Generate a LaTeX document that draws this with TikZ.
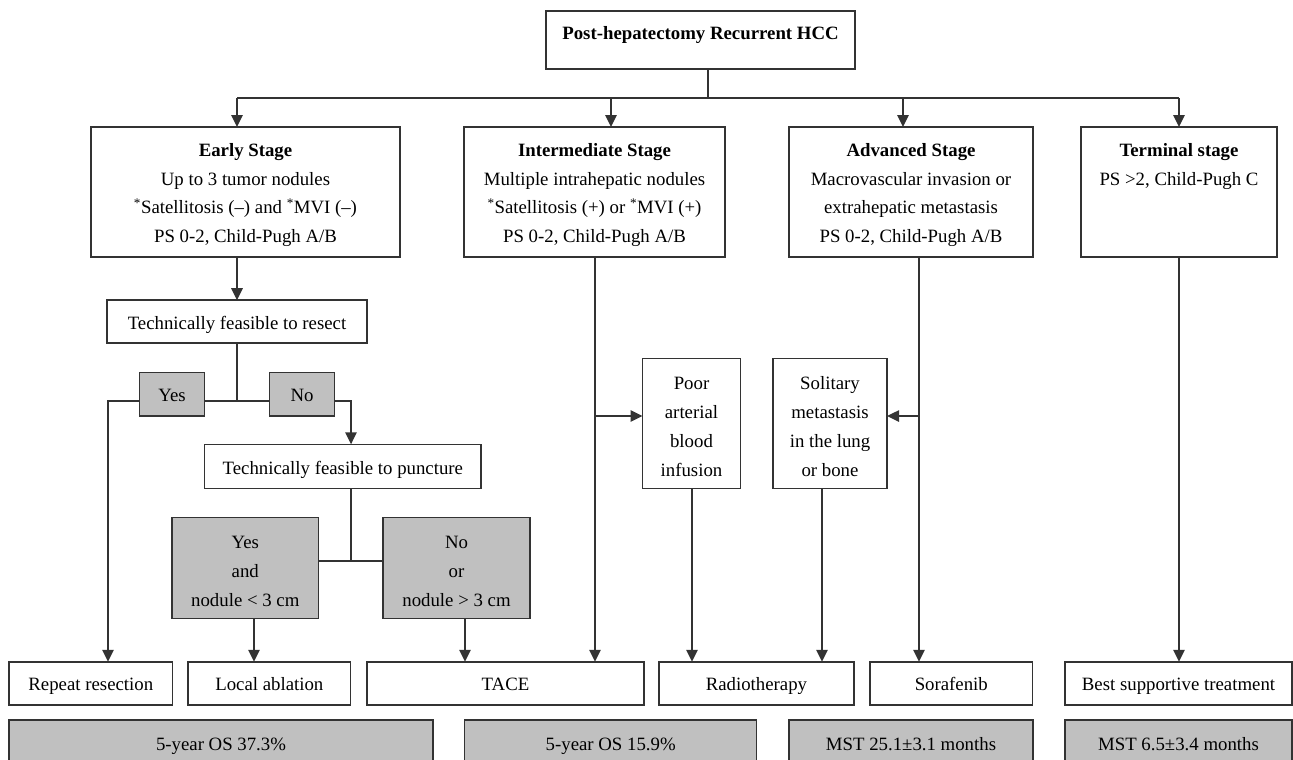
\documentclass[tikz,border=0pt]{standalone}
\usepackage{fontspec}
\setmainfont{Liberation Serif}
\usetikzlibrary{arrows.meta}
\definecolor{ln}{HTML}{333333}
\definecolor{gr}{HTML}{C0C0C0}
\newcommand\tstrut{\rule{0pt}{19pt}}
\begin{document}
\begin{tikzpicture}[x=1pt,y=-1pt,
  font=\fontsize{18.8}{28.8}\selectfont,
  box/.style={draw=ln, line width=1.5pt, inner sep=0pt, outer sep=0pt, align=center},
  gbox/.style={box, fill=gr},
  one/.style={text height=17pt, text depth=2pt},
  conn/.style={draw=ln, line width=1.5pt},
  arr/.style={conn, -{Triangle[length=12pt,width=11.5pt]}}]
\useasboundingbox (0,0) rectangle (1293,760);
\clip (0,0) rectangle (1293,760);

% top
\node[box, minimum width=309pt, minimum height=58pt, text height=13pt, text depth=13pt] (top) at (700.5,40) {\textbf{Post-hepatectomy Recurrent HCC}};

% stages
\node[box, minimum width=309pt, minimum height=130pt] (early) at (245.5,192)
  {\tstrut\textbf{Early Stage}\\Up to 3 tumor nodules\\\textsuperscript{*}Satellitosis (–) and \textsuperscript{*}MVI (–)\\PS 0-2, Child-Pugh A/B};
\node[box, minimum width=261pt, minimum height=130pt] (inter) at (594.5,192)
  {\tstrut\textbf{Intermediate Stage}\\Multiple intrahepatic nodules\\\textsuperscript{*}Satellitosis (+) or \textsuperscript{*}MVI (+)\\PS 0-2, Child-Pugh A/B};
\node[box, minimum width=244pt, minimum height=130pt] (adv) at (911,192)
  {\tstrut\textbf{Advanced Stage}\\Macrovascular invasion or\\extrahepatic metastasis\\PS 0-2, Child-Pugh A/B};
\node[box, minimum width=196pt, minimum height=130pt] (term) at (1179,192)
  {\tstrut\textbf{Terminal stage}\\PS >2, Child-Pugh C\\\phantom{p}\\\phantom{p}};

% early branch
\node[box, one, minimum width=260pt, minimum height=43pt] (resect) at (237,321.7) {Technically feasible to resect};
\node[gbox, one, minimum width=65pt, minimum height=43.3pt] (yes) at (172,394.3) {Yes};
\node[gbox, one, minimum width=65pt, minimum height=43.3pt] (no) at (302,394.3) {No};
\node[box, one, minimum width=276.4pt, minimum height=44.4pt] (punct) at (342.8,466.5) {Technically feasible to puncture};
\node[gbox, minimum width=146.7pt, minimum height=100.6pt] (yesand) at (245.3,568) {\tstrut Yes\\and\\nodule < 3 cm};
\node[gbox, minimum width=147pt, minimum height=100.6pt] (noor) at (456.5,568) {\tstrut No\\or\\nodule > 3 cm};

% middle boxes
\node[box, minimum width=98pt, minimum height=130.4pt] (poor) at (691.5,423.5) {\tstrut Poor\\arterial\\blood\\infusion};
\node[box, minimum width=114.3pt, minimum height=130.4pt] (solit) at (830,423.5) {\tstrut Solitary\\metastasis\\in the lung\\or bone};

% treatments
\node[box, one, minimum width=163.6pt, minimum height=43.3pt] (rep) at (90.8,683.4) {Repeat resection};
\node[box, one, minimum width=162.6pt, minimum height=43.3pt] (abl) at (269.3,683.4) {Local ablation};
\node[box, one, minimum width=277pt, minimum height=43.3pt] (tace) at (505.5,683.4) {TACE};
\node[box, one, minimum width=195.3pt, minimum height=43.3pt] (radio) at (756.4,683.4) {Radiotherapy};
\node[box, one, minimum width=162.5pt, minimum height=43.3pt] (sora) at (951.3,683.4) {Sorafenib};
\node[box, one, minimum width=227pt, minimum height=43.3pt] (best) at (1178.5,683.4) {Best supportive treatment};

% outcomes (cut by the lower edge)
\node[gbox, one, minimum width=424pt, minimum height=46pt] (out1) at (221,743) {5-year OS 37.3\%};
\node[gbox, one, minimum width=292pt, minimum height=46pt] (out2) at (610.7,743) {5-year OS 15.9\%};
\node[gbox, one, minimum width=244pt, minimum height=46pt] (out3) at (911,743) {MST 25.1±3.1 months};
\node[gbox, one, minimum width=227pt, minimum height=46pt] (out4) at (1178.5,743) {MST 6.5±3.4 months};

% coordinates
\coordinate (hub) at (708,98);
\coordinate (a1) at (237,98);
\coordinate (a2) at (611,98);
\coordinate (a3) at (903,98);
\coordinate (a4) at (1179,98);
\coordinate (j1) at (237,401);
\coordinate (c1) at (108,401);
\coordinate (c2) at (351,401);
\coordinate (j2) at (351,561);
\coordinate (c3) at (254,0);
\coordinate (c4) at (465,0);
\coordinate (c5) at (595,0);
\coordinate (m1) at (595,416);
\coordinate (c6) at (919,0);
\coordinate (m2) at (919,416);
\coordinate (c7) at (822,0);
\coordinate (c8) at (692,0);

% connectors
\draw[conn] (hub |- top.south) -- (hub);
\draw[conn] (a1) -- (a4);
\draw[arr] (a1) -- (a1 |- early.north);
\draw[arr] (a2) -- (a2 |- inter.north);
\draw[arr] (a3) -- (a3 |- adv.north);
\draw[arr] (a4) -- (a4 |- term.north);

\draw[arr] (resect.north |- early.south) -- (resect.north);
\draw[conn] (resect.south) -- (j1);
\draw[conn] (yes.east |- j1) -- (no.west |- j1);
\draw[arr] (yes.west |- j1) -- (c1) -- (c1 |- rep.north);
\draw[arr] (no.east |- j1) -- (c2) -- (c2 |- punct.north);
\draw[conn] (c2 |- punct.south) -- (j2);
\draw[conn] (yesand.east |- j2) -- (noor.west |- j2);
\draw[arr] (c3 |- yesand.south) -- (c3 |- abl.north);
\draw[arr] (c4 |- noor.south) -- (c4 |- tace.north);

\draw[arr] (c5 |- inter.south) -- (c5 |- tace.north);
\draw[arr] (m1) -- (m1 -| poor.west);
\draw[arr] (c6 |- adv.south) -- (c6 |- sora.north);
\draw[arr] (m2) -- (m2 -| solit.east);
\draw[arr] (c8 |- poor.south) -- (c8 |- radio.north);
\draw[arr] (c7 |- solit.south) -- (c7 |- radio.north);
\draw[arr] (term.south) -- (term.south |- best.north);
\end{tikzpicture}
\end{document}
